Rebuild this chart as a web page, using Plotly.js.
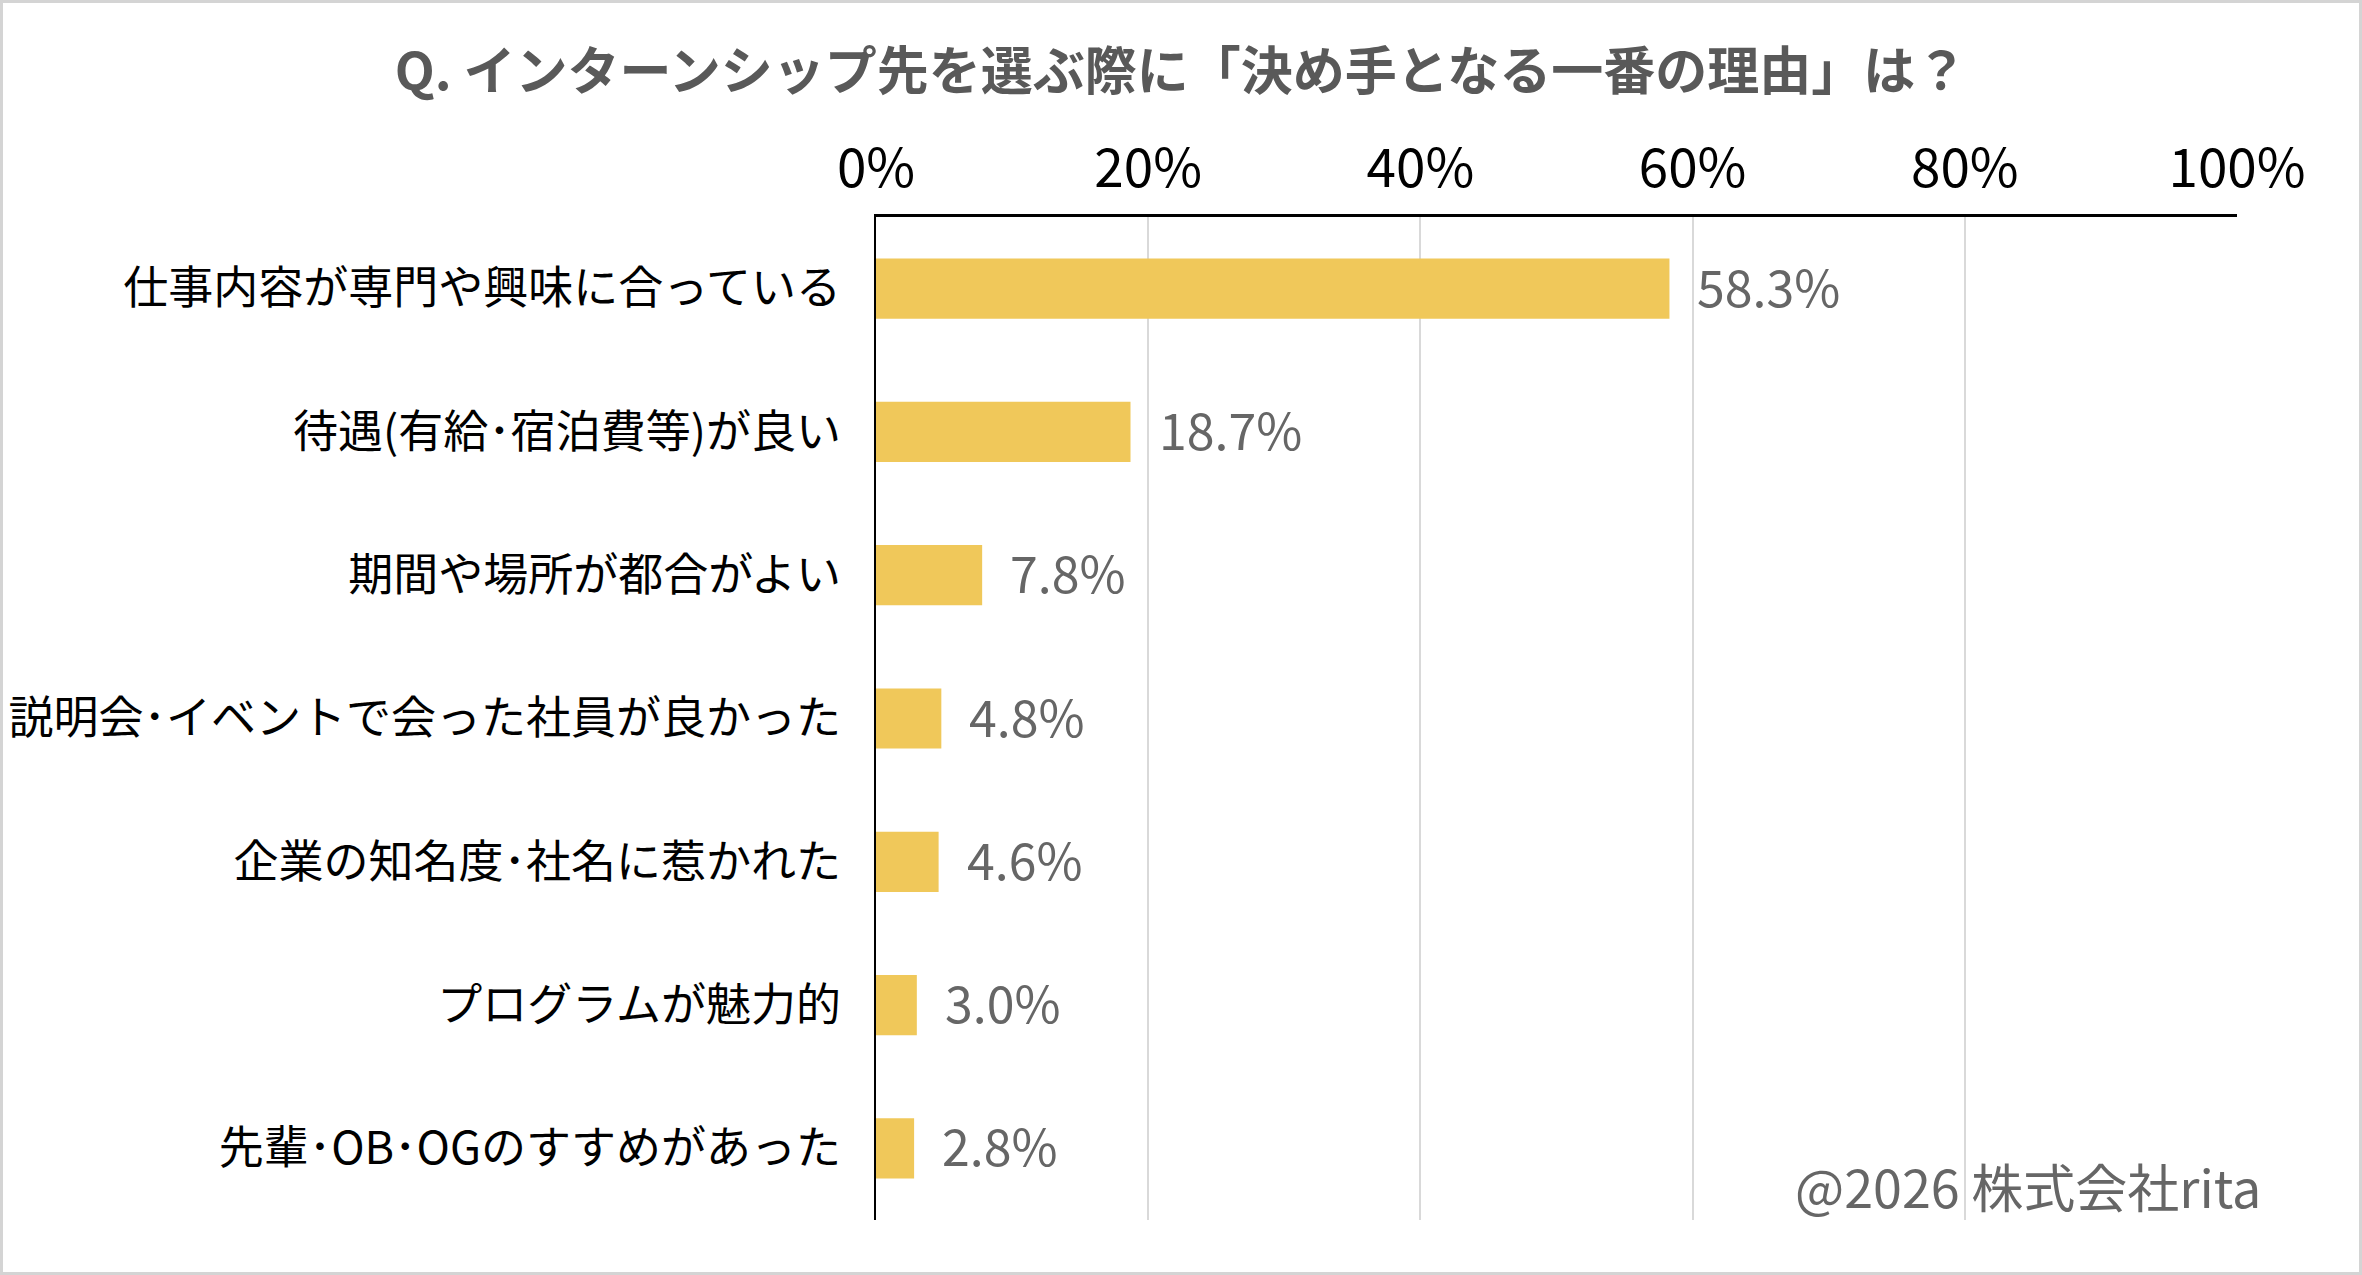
<!DOCTYPE html>
<html>
<head>
<meta charset="utf-8">
<script src="https://cdn.plot.ly/plotly-3.0.1.min.js"></script>
<style>
  html, body { margin: 0; padding: 0; background: #fff; }
  #frame { width: 2362px; height: 1275px; box-sizing: border-box; border: 3px solid #d4d4d4; }
  #plot { width: 2356px; height: 1269px; }
</style>
</head>
<body>
<div id="frame"><div id="plot"></div></div>
<script>
var categories = [
    '仕事内容が専門や興味に合っている',
    '待遇(有給･宿泊費等)が良い',
    '期間や場所が都合がよい',
    '説明会･イベントで会った社員が良かった',
    '企業の知名度･社名に惹かれた',
    'プログラムが魅力的',
    '先輩･OB･OGのすすめがあった'
];
var values = [58.3, 18.7, 7.8, 4.8, 4.6, 3.0, 2.8];
var tickVals = [0, 20, 40, 60, 80, 100];
var tickText = ['0%', '20%', '40%', '60%', '80%', '100%'];

var font = '"Noto Sans CJK JP", "Noto Sans", sans-serif';

var data = [{
    type: 'bar',
    orientation: 'h',
    x: values,
    y: categories,
    marker: { color: '#F0C85A' },
    hoverinfo: 'none'
}];

// value labels placed next to each bar
var labels = values.map(function (v, i) {
    return {
        x: v, y: categories[i], xref: 'x', yref: 'y',
        text: v.toFixed(1) + '%',
        showarrow: false, xanchor: 'left', yanchor: 'middle', xshift: 26, yshift: 4,
        font: { family: font, size: 50, color: '#666666' }
    };
});
labels.push({
    x: 1.019, y: 0.034, xref: 'paper', yref: 'paper',
    text: '@2026 株式会社rita',
    showarrow: false, xanchor: 'right', yanchor: 'middle',
    font: { family: font, size: 52, color: '#666666' }
});

var layout = {
    width: 2356,
    height: 1269,
    margin: { l: 873, r: 122, t: 214, b: 52 },
    paper_bgcolor: '#ffffff',
    plot_bgcolor: '#ffffff',
    showlegend: false,
    bargap: 0.58,
    title: {
        text: '<b>Q. インターンシップ先を選ぶ際に「決め手となる一番の理由」は？</b>',
        x: 0.5, xref: 'container', xanchor: 'center',
        y: 0.946, yref: 'container', yanchor: 'middle',
        font: { family: font, size: 52, color: '#595959' }
    },
    xaxis: {
        side: 'top',
        range: [0, 100],
        tickvals: tickVals,
        ticktext: tickText,
        tickfont: { family: font, size: 53, color: '#000000' },
        ticks: '',
        ticklabelstandoff: 6,
        showgrid: true,
        gridcolor: '#d9d9d9',
        gridwidth: 2,
        zeroline: false,
        showline: true,
        linecolor: '#000000',
        linewidth: 3,
        fixedrange: true
    },
    yaxis: {
        type: 'category',
        range: [6.5, -0.5],
        tickfont: { family: font, size: 45, color: '#000000' },
        ticks: '',
        ticklabelstandoff: 24,
        showgrid: false,
        zeroline: false,
        showline: true,
        linecolor: '#000000',
        linewidth: 2,
        fixedrange: true
    },
    annotations: labels
};

Plotly.newPlot('plot', data, layout, { displayModeBar: false, staticPlot: true });
</script>
</body>
</html>
